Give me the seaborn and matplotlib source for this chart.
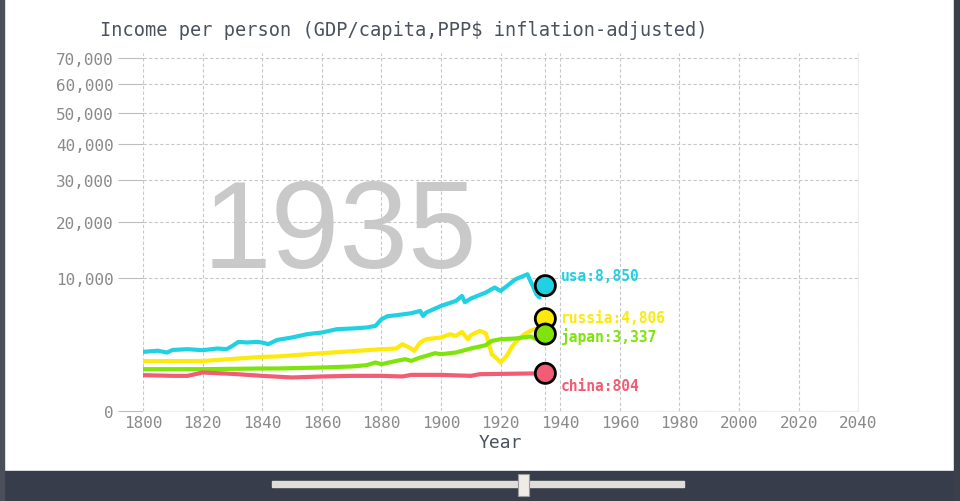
import numpy as np
import pandas as pd
import matplotlib
matplotlib.use("Agg")
import matplotlib.pyplot as plt
import seaborn as sns
from matplotlib.patches import Rectangle

# ======================
# DATA
# ======================
usa_years = [1800, 1805, 1808, 1810, 1815, 1820, 1825, 1828, 1830, 1832, 1835, 1838, 1840, 1842,
             1845, 1850, 1855, 1860, 1865, 1870, 1875, 1878, 1880, 1882, 1885, 1890, 1893, 1894,
             1895, 1900, 1905, 1907, 1908, 1910, 1915, 1918, 1920, 1925, 1929, 1930, 1931, 1932,
             1933]
usa_gdp = [1973, 2052, 1930, 2107, 2157, 2088, 2205, 2157, 2393, 2694, 2649, 2694, 2649, 2519,
           2852, 3048, 3327, 3475, 3773, 3837, 3930, 4082, 4749, 5064, 5171, 5388, 5643, 5095,
           5465, 6222, 6827, 7460, 6666, 7124, 7905, 8588, 8120, 9776, 10531, 9524, 8628, 7681,
           7256]

russia_years = [1800, 1820, 1840, 1845, 1860, 1880, 1885, 1887, 1890, 1891, 1893, 1895, 1900,
                1903, 1905, 1907, 1909, 1910, 1913, 1915, 1916, 1917, 1919, 1920, 1921, 1922,
                1924, 1926, 1928, 1930, 1932, 1933]
russia_gdp = [1403, 1412, 1655, 1680, 1888, 2157, 2205, 2519, 2205, 2040, 2649, 2909, 3048,
              3327, 3181, 3529, 2909, 3241, 3618, 3414, 2649, 1823, 1517, 1331, 1517, 1716,
              2393, 2909, 3327, 3618, 3837, 3900]

japan_years = [1800, 1820, 1840, 1845, 1860, 1870, 1875, 1878, 1880, 1885, 1888, 1890, 1893,
               1895, 1898, 1900, 1905, 1910, 1915, 1917, 1920, 1925, 1930, 1932, 1933]
japan_gdp = [990, 990, 1022, 1022, 1071, 1121, 1187, 1331, 1239, 1420, 1517, 1420, 1617,
             1716, 1888, 1823, 1934, 2205, 2444, 2774, 2909, 2966, 3131, 2909, 3150]

china_years = [1800, 1810, 1815, 1820, 1830, 1840, 1850, 1860, 1870, 1880, 1887, 1890, 1900,
               1910, 1913, 1920, 1930, 1933]
china_gdp = [727, 700, 700, 840, 780, 700, 637, 675, 700, 700, 675, 739, 739, 700, 768, 780,
             797, 800]

countries = ["usa", "russia", "japan", "china"]
current_year = 1935
current_gdp = [8850, 4806, 3337, 804]
colors = {"usa": "#1fd1e3", "russia": "#fde90c", "japan": "#7fe40c", "china": "#f25c74"}

yticks = [0, 10000, 20000, 30000, 40000, 50000, 60000, 70000]
xticks = list(range(1800, 2041, 20))

df = pd.concat([
    pd.DataFrame({"year": usa_years, "gdp": usa_gdp, "country": "usa"}),
    pd.DataFrame({"year": russia_years, "gdp": russia_gdp, "country": "russia"}),
    pd.DataFrame({"year": japan_years, "gdp": japan_gdp, "country": "japan"}),
    pd.DataFrame({"year": china_years, "gdp": china_gdp, "country": "china"}),
], ignore_index=True)
now = pd.DataFrame({"year": current_year, "gdp": current_gdp, "country": countries})

# ======================
# PLOT
# ======================
sns.set_style("white")
plt.rcParams["font.family"] = ["DejaVu Sans Mono", "DejaVu Sans"]

fig = plt.figure(figsize=(9.6, 5.02), dpi=100)
ax = fig.add_axes([0.149, 0.179, 0.745, 0.713])

ax.set_yscale("function", functions=(lambda v: np.sqrt(np.clip(v, 0, None)), lambda v: v ** 2))
ax.set_ylim(0, 72000)
ax.set_xlim(1800, 2040)

ax.grid(True, color="#c8c8c8", linestyle=(0, (3, 2)), linewidth=0.8)
ax.axvline(current_year, color="#c8c8c8", linestyle=(0, (3, 2)), linewidth=0.8, zorder=1)

# big year in the background
ax.text(1866, 17500, str(current_year), fontsize=89, color="#c9c9c9",
        family="Liberation Sans", ha="center", va="center", zorder=0)

sns.lineplot(data=df, x="year", y="gdp", hue="country", palette=colors, linewidth=3,
             legend=False, ax=ax, zorder=3)
sns.scatterplot(data=now, x="year", y="gdp", hue="country", palette=colors, s=210,
                edgecolor="black", linewidth=2, legend=False, ax=ax, zorder=4)

label_offsets = {"usa": (11, 7), "russia": (11, 1), "japan": (11, -1), "china": (11, -9)}
for c, v in zip(countries, current_gdp):
    ax.annotate(f"{c}:{v:,}", (current_year, v), xytext=label_offsets[c],
                textcoords="offset points", color=colors[c], fontsize=10.5,
                fontweight="bold", va="center", ha="left")

ax.set_yticks(yticks)
ax.set_yticklabels([f"{t:,}" for t in yticks])
ax.set_xticks(xticks)
ax.tick_params(axis="y", left=True, colors="#bdbdbd", labelcolor="#8a8a8a", labelsize=11.5,
               length=18, width=0.8, pad=3)
ax.tick_params(axis="x", bottom=False, labelcolor="#8a8a8a", labelsize=11.5, length=0, pad=3)
for s in ["top", "left"]:
    ax.spines[s].set_visible(False)
for s in ["bottom", "right"]:
    ax.spines[s].set_color("#eeeeee")
ax.set_xlabel("Year", fontsize=13, color="#4a535d", labelpad=2)
ax.set_ylabel("")

fig.text(0.104, 0.94, "Income per person (GDP/capita,PPP$ inflation-adjusted)",
         fontsize=13.4, color="#4a535d", ha="left", va="center")

# page frame and slider bar
fig.patches.append(Rectangle((0, 0), 1, 0.06, transform=fig.transFigure,
                             color="#373d4a", zorder=-1))
fig.patches.append(Rectangle((0, 0), 0.004, 1, transform=fig.transFigure,
                             color="#4a4f5a", zorder=-1))
fig.patches.append(Rectangle((0.9935, 0), 0.0065, 1, transform=fig.transFigure,
                             color="#3a3f4a", zorder=-1))
fig.patches.append(Rectangle((0.2835, 0.028), 0.429, 0.012, transform=fig.transFigure,
                             color="#e0dcd8", zorder=1))
fig.patches.append(Rectangle((0.5395, 0.01), 0.0115, 0.044, transform=fig.transFigure,
                             facecolor="#efebe7", edgecolor="#9a9a9a", linewidth=0.8,
                             zorder=2))

fig.savefig("out.png", dpi=100)
